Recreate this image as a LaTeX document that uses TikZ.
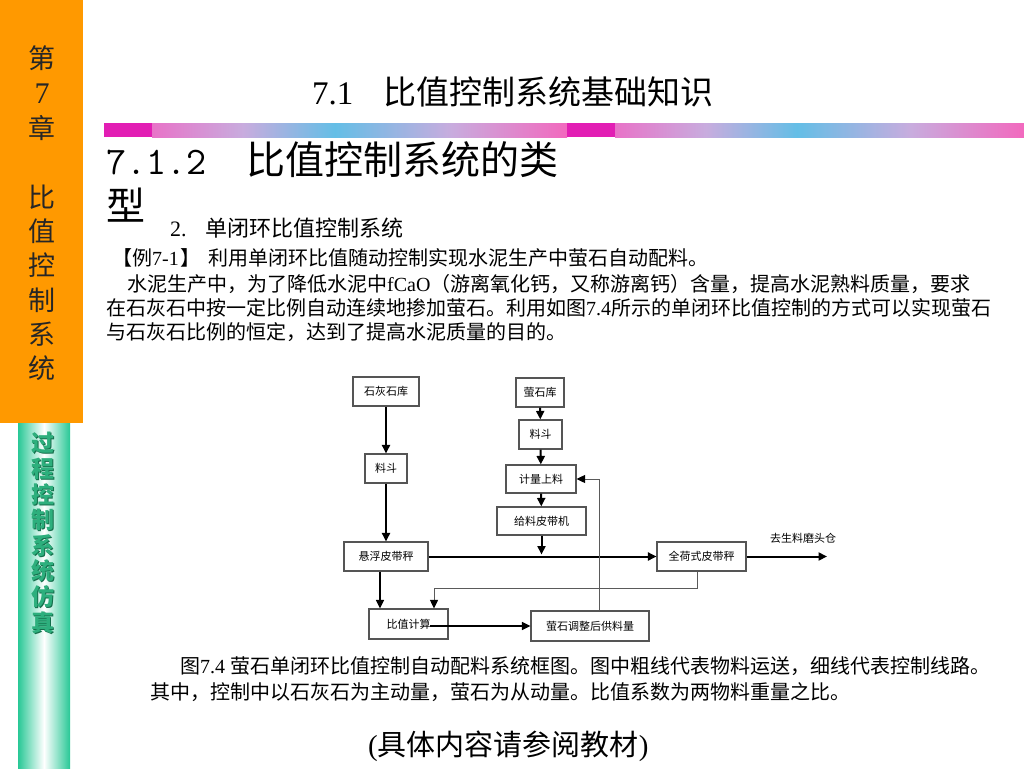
\documentclass[tikz,border=0pt]{standalone}
\usepackage{fontspec}
\setmainfont{Noto Sans CJK SC}
\newfontfamily\tnr{Liberation Serif}
\usetikzlibrary{arrows.meta}
\newcommand\fsz[1]{\fontsize{#1}{#1}\selectfont}
\definecolor{orangebar}{RGB}{255,153,0}
\definecolor{stripgreen}{RGB}{40,200,150}
\definecolor{textgreen}{RGB}{45,175,125}
\definecolor{shadowgreen}{RGB}{20,110,75}
\definecolor{mag}{RGB}{226,30,180}
\definecolor{pinka}{RGB}{232,115,200}
\definecolor{lava}{RGB}{200,172,222}
\definecolor{bluea}{RGB}{100,190,230}
\definecolor{pinkb}{RGB}{242,105,190}
\definecolor{boxline}{RGB}{85,85,85}
\definecolor{thinc}{RGB}{90,90,90}
\tikzset{
  blk/.style={draw=boxline, line width=1.1pt, fill=white, inner sep=0pt, font=\fsz{11}},
  txt/.style={anchor=west, inner sep=0pt},
  thickarrow/.style={line width=2pt, -{Triangle[length=8.5pt,width=8pt]}},
  medarrow/.style={line width=1.5pt, -{Triangle[length=8.5pt,width=8pt]}},
  thinarrow/.style={draw=thinc, line width=0.9pt, -{Triangle[length=8.5pt,width=8pt,color=black]}},
}
\begin{document}
\begin{tikzpicture}[x=1pt,y=-1pt]
\fill[white] (0,0) rectangle (1024,768);
\useasboundingbox (0,0) rectangle (1024,768);

% left sidebar
\fill[orangebar] (0,0) rectangle (83,423);
\shade[left color=stripgreen, right color=white] (18,423) rectangle (44,768);
\shade[left color=white, right color=stripgreen] (44,423) rectangle (70,768);
\foreach \c/\yy [count=\i] in {第/58,{\tnr\fsz{30}7}/94,章/128,比/197,值/231,控/265,制/300,系/334,统/368}
  \node[inner sep=0pt, font=\fsz{27}, text=black!85] (side\i) at (42,\yy) {\c};
\foreach \c/\yy [count=\i] in {过/443,程/469,控/494,制/520,系/546,统/571,仿/597,真/623}{
  \node[inner sep=0pt, font=\fsz{23}\bfseries, text=shadowgreen] (gs\i) at (44,\yy+1) {\c};
  \node[inner sep=0pt, font=\fsz{23}\bfseries, text=textgreen] (g\i) at (43,\yy) {\c};
}

% top band
\fill[mag] (104,123) rectangle (152,137);
\shade[left color=pinka, right color=bluea, middle color=lava] (152,123) rectangle (335,137);
\shade[left color=bluea, right color=pinkb, middle color=lava] (335,123) rectangle (567,137);
\fill[mag] (567,123) rectangle (615,137);
\shade[left color=pinka, right color=bluea, middle color=lava] (615,123) rectangle (797,137);
\shade[left color=bluea, right color=pinkb, middle color=lava] (797,123) rectangle (1024,137);

% titles
\node[txt, font=\fsz{33}] (title) at (312,92) {{\tnr 7.1}\hspace{30pt}比值控制系统基础知识};
\node[txt, font=\fsz{39}] (sec) at (106,160) {{\ttfamily 7.1.2}\hspace{40pt}比值控制系统的类};
\node[txt, font=\fsz{39}] (sec2) at (106,205) {型};
\node[txt, font=\fsz{22}] (sub) at (170,228) {{\tnr 2.}\hspace{19pt}单闭环比值控制系统};

% paragraph
\node[txt, font=\fsz{20}] (p1) at (112,258) {【例{\tnr 7-1}\hspace{2pt}】\hspace{8pt}利用单闭环比值随动控制实现水泥生产中萤石自动配料。};
\node[txt, font=\fsz{20}] (p2) at (127,284) {水泥生产中，为了降低水泥中{\tnr fCaO}（游离氧化钙，又称游离钙）含量，提高水泥熟料质量，要求};
\node[txt, font=\fsz{20}] (p3) at (106,308) {在石灰石中按一定比例自动连续地掺加萤石。利用如图{\tnr 7.4}所示的单闭环比值控制的方式可以实现萤石};
\node[txt, font=\fsz{20}] (p4) at (106,332) {与石灰石比例的恒定，达到了提高水泥质量的目的。};

% diagram
\node[blk, minimum width=66pt, minimum height=29pt] (A) at (386,391.5) {石灰石库};
\node[blk, minimum width=42pt, minimum height=29pt] (B) at (386,468.5) {料斗};
\node[blk, minimum width=84pt, minimum height=29pt] (C) at (386,556.5) {悬浮皮带秤};
\node[blk, minimum width=48pt, minimum height=29pt] (D) at (540,392.5) {萤石库};
\node[blk, minimum width=43pt, minimum height=29pt] (E) at (540.5,434.5) {料斗};
\node[blk, minimum width=70pt, minimum height=28pt] (F) at (541,479) {计量上料};
\node[blk, minimum width=89pt, minimum height=28pt] (G) at (541.5,521) {给料皮带机};
\node[blk, minimum width=89pt, minimum height=29pt] (H) at (701.5,556.5) {全荷式皮带秤};
\node[blk, minimum width=79pt, minimum height=30pt] (I) at (408.5,624) {比值计算};
\node[blk, minimum width=118pt, minimum height=30pt] (J) at (590,626) {萤石调整后供料量};
\node[inner sep=0pt, font=\fsz{11}] (K) at (803,538) {去生料磨头仓};
\coordinate (out) at (827,556.5);

\draw[thickarrow] (A) -- (B);
\draw[thickarrow] (B) -- (C);
\draw[thickarrow] (D) -- (E);
\draw[thickarrow] (E) -- (F);
\draw[thickarrow] (F) -- (G);
\draw[thickarrow, shorten >=2pt] (G) -- (G |- C);
\draw[thickarrow] (C) -- (H);
\draw[thickarrow] (H) -- (out);
\coordinate (Cb) at ([xshift=-6pt]C.south);
\draw[medarrow] (Cb) -- (Cb |- I.north);
\coordinate (Hb) at ([xshift=-4.5pt]H.south);
\coordinate (In) at ([xshift=25.5pt]I.north);
\draw[thinarrow] (Hb) -- ++(0,17) -| (In);
\coordinate (Is) at ([xshift=21.5pt]I.center);
\draw[medarrow] (Is |- J.west) -- (J.west);
\coordinate (Jt) at ([xshift=9pt]J.north);
\draw[thinarrow] (Jt) |- (F.east);

% caption
\node[txt, font=\fsz{20}] (c1) at (180,666) {图{\tnr 7.4 }萤石单闭环比值控制自动配料系统框图。图中粗线代表物料运送，细线代表控制线路。};
\node[txt, font=\fsz{20}] (c2) at (150,692) {其中，控制中以石灰石为主动量，萤石为从动量。比值系数为两物料重量之比。};
\node[txt, font=\fsz{29}] (ref) at (368,746) {{\tnr (}具体内容请参阅教材{\tnr )}};
\end{tikzpicture}
\end{document}
